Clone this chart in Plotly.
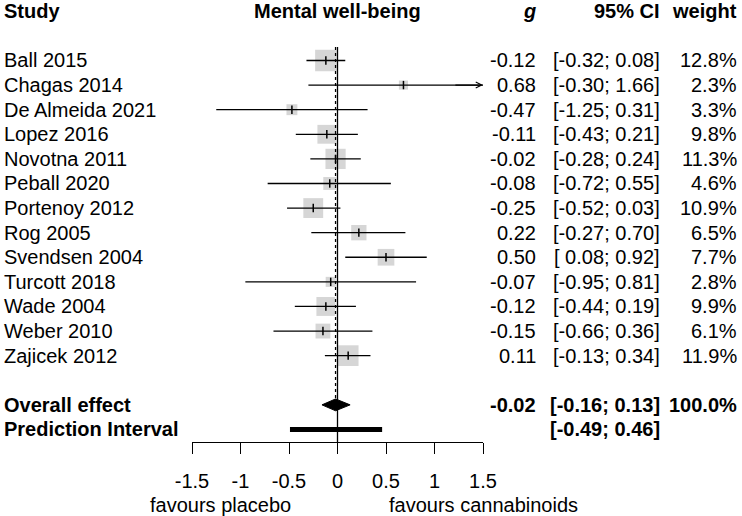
import numpy as np
import plotly.graph_objects as go

studies = ["Ball 2015", "Chagas 2014", "De Almeida 2021", "Lopez 2016", "Novotna 2011",
           "Peball 2020", "Portenoy 2012", "Rog 2005", "Svendsen 2004", "Turcott 2018",
           "Wade 2004", "Weber 2010", "Zajicek 2012"]
g = [-0.12, 0.68, -0.47, -0.11, -0.02, -0.08, -0.25, 0.22, 0.50, -0.07, -0.12, -0.15, 0.11]
lower = [-0.32, -0.30, -1.25, -0.43, -0.28, -0.72, -0.52, -0.27, 0.08, -0.95, -0.44, -0.66, -0.13]
upper = [0.08, 1.66, 0.31, 0.21, 0.24, 0.55, 0.03, 0.70, 0.92, 0.81, 0.19, 0.36, 0.34]
weight = [12.8, 2.3, 3.3, 9.8, 11.3, 4.6, 10.9, 6.5, 7.7, 2.8, 9.9, 6.1, 11.9]

overall_g = -0.02
overall_ci = [-0.16, 0.13]
overall_w = 100.0
pred_int = [-0.49, 0.46]

tick_vals = [-1.5, -1, -0.5, 0, 0.5, 1, 1.5]
tick_text = ["-1.5", "-1", "-0.5", "0", "0.5", "1", "1.5"]
x_lim = [-1.5, 1.5]

FONT = "Liberation Sans, Arial, sans-serif"
rows = list(range(len(studies)))
row_overall = len(studies) + 1
row_pi = row_overall + 1


def fmt_ci(lo, hi):
    return f"[{lo:5.2f}; {hi:.2f}]".replace(" ", "\u00a0").replace(";\u00a0", "; ")


fig = go.Figure()

# study squares (area ~ weight)
sizes = 21.5 * np.sqrt(np.array(weight) / 12.8)
fig.add_trace(go.Scatter(x=g, y=rows, mode="markers", hoverinfo="skip",
                         marker=dict(symbol="square", size=sizes, color="#c4c4c4",
                                     line=dict(width=0))))

# confidence intervals
ci_x, ci_y = [], []
for r, lo, hi in zip(rows, lower, upper):
    ci_x += [max(lo, x_lim[0]), min(hi, x_lim[1]), None]
    ci_y += [r, r, None]
fig.add_trace(go.Scatter(x=ci_x, y=ci_y, mode="lines", hoverinfo="skip",
                         line=dict(color="black", width=1.3)))

# point estimate ticks
fig.add_trace(go.Scatter(x=g, y=rows, mode="markers", hoverinfo="skip",
                         marker=dict(symbol="line-ns", size=6,
                                     line=dict(width=1.5, color="black"))))

# overall diamond
h = 0.24
fig.add_trace(go.Scatter(
    x=[overall_ci[0], overall_g, overall_ci[1], overall_g, overall_ci[0]],
    y=[row_overall, row_overall - h, row_overall, row_overall + h, row_overall],
    mode="lines", fill="toself", fillcolor="black", hoverinfo="skip",
    line=dict(color="black", width=1)))

# prediction interval
fig.add_trace(go.Scatter(x=pred_int, y=[row_pi, row_pi], mode="lines", hoverinfo="skip",
                         line=dict(color="black", width=5)))

# reference lines
fig.add_shape(type="line", x0=0, x1=0, y0=-0.55, y1=15.51, xref="x", yref="y",
              line=dict(color="black", width=1.3))
fig.add_shape(type="line", x0=overall_g, x1=overall_g, y0=-0.55, y1=row_overall - h,
              xref="x", yref="y", line=dict(color="black", width=1.3, dash="dot"))

ann = []
# arrows for intervals beyond the axis
for r, lo, hi in zip(rows, lower, upper):
    if hi > x_lim[1]:
        ann.append(dict(x=x_lim[1], y=r, ax=x_lim[1] - 0.3, ay=r, xref="x", yref="y",
                        axref="x", ayref="y", text="", showarrow=True, arrowhead=5,
                        arrowwidth=1.3, arrowsize=0.9, arrowcolor="black"))

X_STUDY, X_G, X_CI, X_W = -0.6529, 1.189, 1.614, 1.880

# header
ann += [
    dict(x=X_STUDY, y=-2, xref="paper", yref="y", text="<b>Study</b>", xanchor="left"),
    dict(x=0, y=-2, xref="x", yref="y", text="<b>Mental well-being</b>", xanchor="center"),
    dict(x=X_G, y=-2, xref="paper", yref="y", text="<b><i>g</i></b>", xanchor="right"),
    dict(x=X_CI, y=-2, xref="paper", yref="y", text="<b>95% CI</b>", xanchor="right"),
    dict(x=X_W, y=-2, xref="paper", yref="y", text="<b>weight</b>", xanchor="right"),
]

for r, s, v, lo, hi, w in zip(rows, studies, g, lower, upper, weight):
    ann += [
        dict(x=X_STUDY, y=r, xref="paper", yref="y", text=s, xanchor="left"),
        dict(x=X_G, y=r, xref="paper", yref="y", text=f"{v:.2f}", xanchor="right"),
        dict(x=X_CI, y=r, xref="paper", yref="y", text=fmt_ci(lo, hi), xanchor="right"),
        dict(x=X_W, y=r, xref="paper", yref="y", text=f"{w:.1f}%", xanchor="right"),
    ]

ann += [
    dict(x=X_STUDY, y=row_overall, xref="paper", yref="y", text="<b>Overall effect</b>",
         xanchor="left"),
    dict(x=X_G, y=row_overall, xref="paper", yref="y", text=f"<b>{overall_g:.2f}</b>",
         xanchor="right"),
    dict(x=X_CI, y=row_overall, xref="paper", yref="y",
         text=f"<b>{fmt_ci(*overall_ci)}</b>", xanchor="right"),
    dict(x=X_W, y=row_overall, xref="paper", yref="y", text=f"<b>{overall_w:.1f}%</b>",
         xanchor="right"),
    dict(x=X_STUDY, y=row_pi, xref="paper", yref="y", text="<b>Prediction Interval</b>",
         xanchor="left"),
    dict(x=X_CI, y=row_pi, xref="paper", yref="y",
         text=f"<b>{fmt_ci(*pred_int)}</b>", xanchor="right"),
    dict(x=-0.46, y=-0.1425, xref="x", yref="paper", text="favours placebo",
         xanchor="right"),
    dict(x=0.51, y=-0.1425, xref="x", yref="paper", text="favours cannabinoids",
         xanchor="left"),
]
for a in ann:
    a.setdefault("showarrow", False)
    a.setdefault("yanchor", "middle")

fig.update_layout(
    width=742, height=516,
    margin=dict(l=192, r=259, t=0, b=74, pad=0),
    plot_bgcolor="white", paper_bgcolor="white",
    font=dict(family=FONT, size=20, color="black"),
    showlegend=False,
    annotations=ann,
    xaxis=dict(range=x_lim, tickvals=tick_vals, ticktext=tick_text, showgrid=False,
               zeroline=False, showline=True, linecolor="black", linewidth=1,
               ticks="outside", ticklen=11, tickwidth=1, tickcolor="black",
               ticklabelstandoff=10),
    yaxis=dict(range=[15.51, -2.459], visible=False, showgrid=False, zeroline=False),
)

fig.write_html("out.html", config={"displayModeBar": False},
               post_script="document.body.style.margin='0';")
